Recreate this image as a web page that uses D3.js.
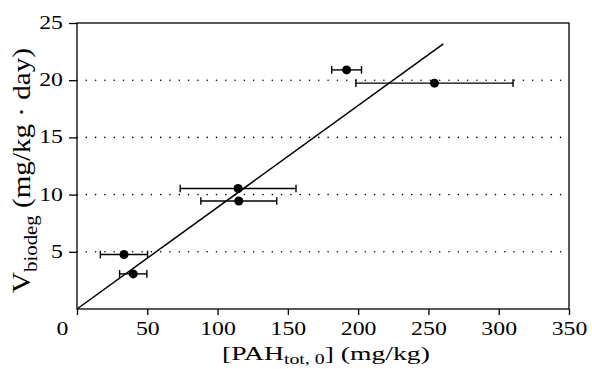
<!DOCTYPE html>
<html>
<head>
<meta charset="utf-8">
<script src="https://cdn.jsdelivr.net/npm/d3@7"></script>
<style>
  html, body { margin: 0; padding: 0; background: #fff; }
  svg { display: block; }
  text { font-family: "Liberation Serif", serif; fill: #000; }
</style>
</head>
<body>
<svg id="chart" width="592" height="369"></svg>
<script>
// ---- data ----
const pahTot0   = [33.4, 40.0, 114.6, 115.1, 191.8, 254.3];   // x, mg/kg
const vBiodeg   = [4.76, 3.07, 10.53, 9.44, 20.9, 19.74];     // y, mg/(kg·day)
const pahErr    = [16.8, 9.7, 41.2, 27.0, 10.6, 55.9];        // x error (±)
const fitSlope  = [0.0889];                                   // line through origin
const fitXRange = [0, 260.6];
const xTicks    = [0, 50, 100, 150, 200, 250, 300, 350];
const yTicks    = [5, 10, 15, 20, 25];
const yGrid     = [5, 10, 15, 20];

const svg = d3.select("#chart");
const margin = { left: 77, right: 23, top: 23, bottom: 60 };
const W = 592, H = 369;
const x = d3.scaleLinear().domain([0, 350]).range([margin.left, W - margin.right]);
const y = d3.scaleLinear().domain([0, 25]).range([H - margin.bottom, margin.top]);

const FS = 19.5;      // font size
const SX = 1.22;      // horizontal stretch of glyphs (reference text is wide)

// grid
svg.append("g").selectAll("line").data(yGrid).join("line")
  .attr("x1", x(0)).attr("x2", x(350))
  .attr("y1", d => y(d)).attr("y2", d => y(d))
  .attr("stroke", "#000").attr("stroke-width", 1.6)
  .attr("stroke-linecap", "round")
  .attr("stroke-dasharray", "0,9.3");

// axes
const xAxis = d3.axisBottom(x).tickValues(xTicks).tickSize(6).tickPadding(6)
  .tickFormat(d3.format("d"));
const gx = svg.append("g").attr("transform", `translate(0,${y(0)})`).call(xAxis);
gx.select(".domain").remove();
gx.selectAll("line").attr("stroke-width", 1.3);
gx.selectAll("text").attr("font-size", FS).attr("font-family", "Liberation Serif")
  .attr("x", 0)
  .attr("transform", d => `translate(${d === 0 ? -15 : 0},0) scale(${SX},1)`);

const yAxis = d3.axisLeft(y).tickValues(yTicks).tickSize(8).tickPadding(6)
  .tickFormat(d3.format("d"));
const gy = svg.append("g").attr("transform", `translate(${x(0)},0)`).call(yAxis);
gy.select(".domain").remove();
gy.selectAll("line").attr("stroke-width", 1.3);
gy.selectAll("text").attr("font-size", FS).attr("font-family", "Liberation Serif")
  .attr("x", 0).attr("dy", "0.28em")
  .attr("transform", `translate(-14,0) scale(${SX},1)`);

// fit line
const line = d3.line().x(d => x(d)).y(d => y(d * fitSlope[0]));
svg.append("path").datum(fitXRange).attr("d", line)
  .attr("fill", "none").attr("stroke", "#000").attr("stroke-width", 1.5);

// error bars
const pts = pahTot0.map((v, i) => ({ x: v, y: vBiodeg[i], e: pahErr[i] }));
const eb = svg.append("g").attr("stroke", "#000").attr("stroke-width", 1.4);
eb.selectAll("line.h").data(pts).join("line").attr("class", "h")
  .attr("x1", d => x(d.x - d.e)).attr("x2", d => x(d.x + d.e))
  .attr("y1", d => y(d.y)).attr("y2", d => y(d.y));
eb.selectAll("line.cl").data(pts).join("line").attr("class", "cl")
  .attr("x1", d => x(d.x - d.e)).attr("x2", d => x(d.x - d.e))
  .attr("y1", d => y(d.y) - 3.8).attr("y2", d => y(d.y) + 3.8);
eb.selectAll("line.cr").data(pts).join("line").attr("class", "cr")
  .attr("x1", d => x(d.x + d.e)).attr("x2", d => x(d.x + d.e))
  .attr("y1", d => y(d.y) - 3.8).attr("y2", d => y(d.y) + 3.8);

// markers
svg.append("g").selectAll("circle").data(pts).join("circle")
  .attr("cx", d => x(d.x)).attr("cy", d => y(d.y)).attr("r", 4.5).attr("fill", "#000");

// frame
svg.append("rect").attr("x", x(0)).attr("y", y(25))
  .attr("width", x(350) - x(0)).attr("height", y(0) - y(25))
  .attr("fill", "none").attr("stroke", "#000").attr("stroke-width", 1.3);

// x label: starts at 222, spans ~208 px
const xlG = svg.append("g");
const xl = xlG.append("text").attr("x", 0).attr("y", 0).attr("font-size", FS);
xl.append("tspan").text("[PAH");
xl.append("tspan").attr("font-size", 14).attr("dy", 4).text("tot, 0");
xl.append("tspan").attr("dy", -4).text("] (mg/kg)");
{
  const w = xl.node().getBBox().width;
  xlG.attr("transform", `translate(222,360) scale(${208 / w},1)`);
}

// y label: rotated, from y=293 up to y=48, glyph height stretched
const ylG = svg.append("g");
const yl = ylG.append("text").attr("x", 0).attr("y", 0).attr("font-size", FS);
yl.append("tspan").text("V");
yl.append("tspan").attr("font-size", 14).attr("dy", 5).text("biodeg");
yl.append("tspan").attr("dy", -5).text(" (mg/kg · day)");
{
  const w = yl.node().getBBox().width;
  ylG.attr("transform", `translate(30,293) scale(1.3,1) rotate(-90) scale(${245 / w},1)`);
}
</script>
</body>
</html>
